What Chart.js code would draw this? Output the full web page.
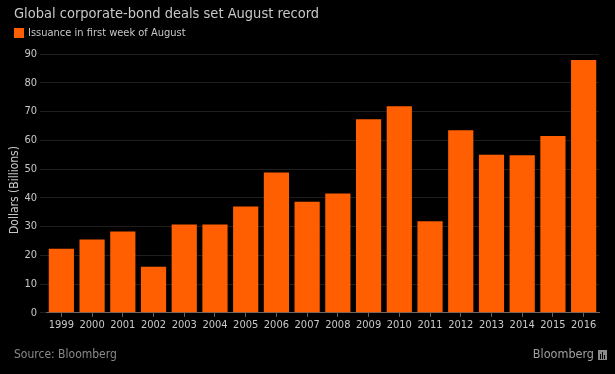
<!DOCTYPE html>
<html>
<head>
<meta charset="utf-8">
<script src="https://cdn.jsdelivr.net/npm/chart.js@4/dist/chart.umd.min.js"></script>
<style>
html,body{margin:0;padding:0;background:#000;}
#wrap{width:615px;height:374px;position:relative;}
</style>
</head>
<body>
<div id="wrap"><canvas id="c" width="615" height="374"></canvas></div>
<script>
const titleText = "Global corporate-bond deals set August record";
const seriesName = "Issuance in first week of August";
const yAxisTitle = "Dollars (Billions)";
const sourceText = "Source: Bloomberg";
const brandText = "Bloomberg";
const years = ["1999","2000","2001","2002","2003","2004","2005","2006","2007","2008","2009","2010","2011","2012","2013","2014","2015","2016"];
const issuance = [22.3, 25.5, 28.3, 16.0, 30.7, 30.7, 37.0, 48.8, 38.6, 41.5, 67.3, 71.8, 31.8, 63.5, 55.0, 54.8, 61.5, 87.9];
const yTicks = [0,10,20,30,40,50,60,70,80,90];

const FONT = "'DejaVu Sans Condensed', 'DejaVu Sans', sans-serif";
const TEXT = "#c8c8c8";
const ORANGE = "#ff5f00";

const textPlugin = {
  id: 'texts',
  afterDraw(chart) {
    const ctx = chart.ctx;
    ctx.save();
    ctx.textBaseline = "middle";
    ctx.textAlign = "left";
    // title
    ctx.font = "14.5px " + FONT;
    ctx.fillStyle = TEXT;
    ctx.fillText(titleText, 14, 14);
    // legend
    const ds = chart.data.datasets[0];
    ctx.fillStyle = ds.backgroundColor;
    ctx.fillRect(14, 28, 10, 10);
    ctx.font = "11px " + FONT;
    ctx.fillStyle = TEXT;
    ctx.fillText(ds.label, 28, 33.5);
    // y axis title
    ctx.save();
    ctx.translate(15, 190);
    ctx.rotate(-Math.PI / 2);
    ctx.textAlign = "center";
    ctx.font = "12px " + FONT;
    ctx.fillStyle = TEXT;
    ctx.fillText(yAxisTitle, 0, 0);
    ctx.restore();
    // footer
    ctx.font = "12px " + FONT;
    ctx.fillStyle = "#8a8a8a";
    ctx.fillText(sourceText, 14, 355);
    ctx.font = "12.5px " + FONT;
    ctx.fillStyle = "#a0a0a0";
    ctx.textAlign = "right";
    ctx.fillText(brandText, 594, 355);
    // small brand icon
    ctx.fillStyle = "#8a8a8a";
    ctx.fillRect(598, 350, 9, 10);
    ctx.fillStyle = "#000";
    ctx.fillRect(600, 354, 1, 5);
    ctx.fillRect(602, 352, 1, 7);
    ctx.fillRect(604, 355, 1, 4);
    ctx.restore();
  }
};

Chart.defaults.font.family = FONT;
Chart.defaults.color = TEXT;

new Chart(document.getElementById('c'), {
  type: 'bar',
  data: {
    labels: years,
    datasets: [{
      label: seriesName,
      data: issuance,
      backgroundColor: ORANGE,
      borderWidth: 0,
      categoryPercentage: 0.82,
      barPercentage: 1.0
    }]
  },
  options: {
    responsive: false,
    animation: false,
    devicePixelRatio: 1,
    layout: { padding: { left: 0, right: 16, top: 54, bottom: 40 } },
    plugins: {
      title: { display: false },
      legend: { display: false },
      tooltip: { enabled: false }
    },
    scales: {
      x: {
        grid: { display: true, drawOnChartArea: false, color: '#666', tickLength: 4, offset: false },
        border: { color: '#666' },
        ticks: { color: TEXT, font: { size: 11 }, maxRotation: 0, padding: 2 }
      },
      y: {
        min: 0, max: 90,
        afterBuildTicks(axis) { axis.ticks = yTicks.map(v => ({ value: v })); },
        afterFit(axis) { axis.width = 46; },
        grid: { color: '#1e1e1e', tickLength: 6 },
        border: { display: false },
        ticks: { color: TEXT, font: { size: 11 }, padding: 3 },
        title: { display: false }
      }
    }
  },
  plugins: [textPlugin]
});
</script>
</body>
</html>
